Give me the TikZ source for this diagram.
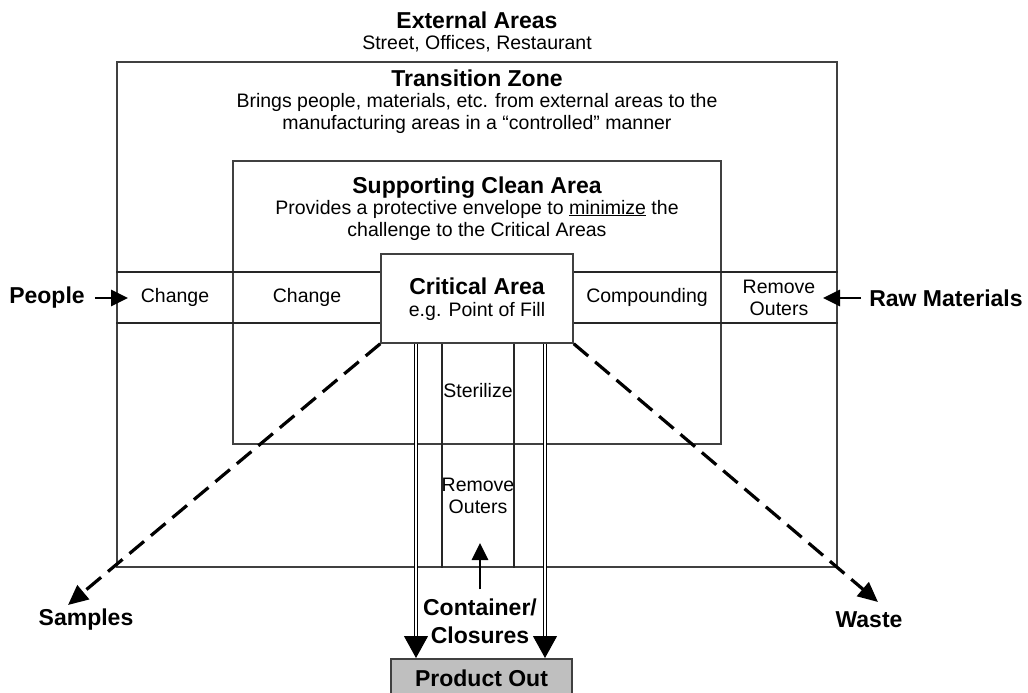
\documentclass[tikz,border=0pt]{standalone}
\usepackage{fontspec}
\setmainfont{Liberation Sans}
\usetikzlibrary{arrows.meta}
\newcommand\regsize{\fontsize{19.5}{22}\selectfont}
\newcommand\boldsize{\fontsize{23}{28}\selectfont\bfseries}
\begin{document}
\begin{tikzpicture}[x=1pt,y=-1pt,
  wall/.style={draw=black!75, line width=1.5pt, inner sep=0pt},
  cellline/.style={draw=black!85, line width=1.2pt},
  title/.style={font=\boldsize, inner sep=0pt, text height=16.5pt, text depth=0pt},
  desc/.style={font=\regsize, inner sep=0pt, text height=14pt, text depth=0pt},
  celltext/.style={font=\regsize, align=center, inner sep=0pt},
  label/.style={font=\boldsize, align=center, inner sep=0pt},
  bigarrow/.style={line width=2.8pt, -{Triangle[length=17pt,width=16pt]}},
  prodarrow/.style={line width=1pt, double=white, double distance=1.3pt, -{Triangle[length=22pt,width=24pt]}},
  flowarrow/.style={line width=3.2pt, dash pattern=on 19pt off 9pt, -{Triangle[length=20pt,width=18pt]}},
]
\useasboundingbox (0,0) rectangle (1028,693);

% headings of the external areas
\node[title] (exttitle) at (477,20) {External Areas};
\node[desc] (extdesc) at (477,43) {Street, Offices, Restaurant};

% transition zone
\node[wall, minimum width=720pt, minimum height=505pt] (tz) at (477,314.5) {};
\node[title] (tztitle) at (477,78) {Transition Zone};
\node[desc] (tzdesc1) at (477,100) {Brings people, materials, etc. from external areas to the};
\node[desc] (tzdesc2) at (477,122) {manufacturing areas in a \textquotedblleft controlled\textquotedblright\ manner};

% supporting clean area
\node[wall, minimum width=488pt, minimum height=283pt] (sca) at (477,302.5) {};
\node[title] (scatitle) at (477,185) {Supporting Clean Area};
\node[desc] (scadesc1) at (477,207) {Provides a protective envelope to \underline{minimize} the};
\node[desc] (scadesc2) at (477,229) {challenge to the Critical Areas};

% horizontal band of entry cells
\coordinate (bandtop) at (0,272);
\coordinate (bandbot) at (0,323);
\draw[cellline] (tz.west |- bandtop) -- (tz.east |- bandtop);
\draw[cellline] (tz.west |- bandbot) -- (tz.east |- bandbot);

% vertical column below the critical area
\coordinate (colA) at (442,0);
\coordinate (colB) at (514,0);
\coordinate (critbot) at (0,343);
\draw[cellline] (colA |- critbot) -- (colA |- tz.south);
\draw[cellline] (colB |- critbot) -- (colB |- tz.south);

% critical area
\node[wall, fill=white, minimum width=192pt, minimum height=89pt] (crit) at (477,298.5) {};
\node[title] (crittitle) at (477,286) {Critical Area};
\node[desc] (critdesc) at (477,309) {e.g. Point of Fill};

% cell labels
\node[celltext] (change1) at (175,297.5) {Change};
\node[celltext] (change2) at (307,297.5) {Change};
\node[celltext] (compound) at (647,297.5) {Compounding};
\node[celltext] (outers1) at (779,297.5) {Remove\\Outers};
\node[celltext] (steril) at (478,391) {Sterilize};
\node[celltext] (outers2) at (478,496) {Remove\\Outers};

% outside inputs and outputs
\node[label] (people) at (47,298) {People};
\node[label] (raw) at (946,298) {Raw Materials};
\node[label] (samples) at (86,620) {Samples};
\node[label] (waste) at (869,620) {Waste};
\node[label] (container) at (480,621) {Container/\\Closures};
\node[draw=black!75, line width=1.5pt, fill=black!25, anchor=north, minimum width=181pt,
      inner ysep=11pt, font=\boldsize, text height=16.5pt, text depth=6pt] (product) at (481.5,658) {Product Out};

% connector end points
\coordinate (peopletip) at (128,298);
\coordinate (rawtip) at (823,298);
\coordinate (conttip) at (480,543);
\coordinate (samptip) at (68,605);
\coordinate (wastetip) at (878,602);
\coordinate (prodL) at (416,0);
\coordinate (prodR) at (545,0);

% connectors
\draw[bigarrow, shorten <=10pt] (people.east) -- (peopletip);
\draw[bigarrow, shorten <=8pt] (raw.west) -- (rawtip);
\draw[bigarrow, shorten <=9pt] (container.north) -- (conttip);
\draw[prodarrow] (prodL |- crit.south) -- (prodL |- product.north);
\draw[prodarrow] (prodR |- crit.south) -- (prodR |- product.north);
\draw[flowarrow] (crit.south west) -- (samptip);
\draw[flowarrow] (crit.south east) -- (wastetip);
\end{tikzpicture}
\end{document}
